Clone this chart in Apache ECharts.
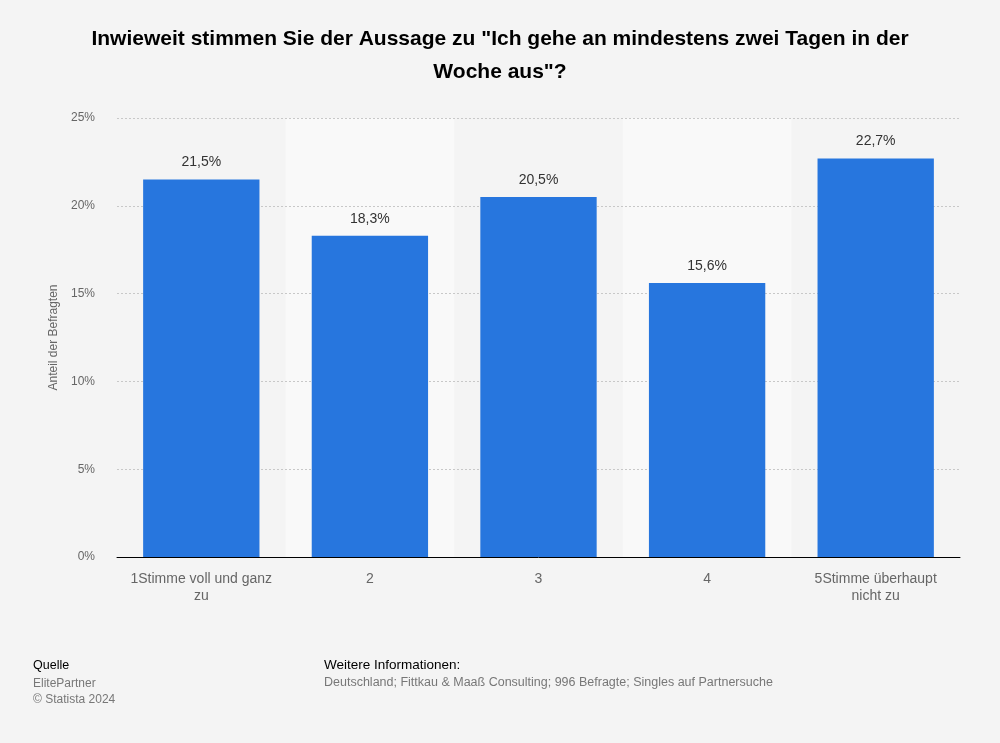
<!DOCTYPE html>
<html><head><meta charset="utf-8">
<script src="https://cdn.jsdelivr.net/npm/echarts@6/dist/echarts.min.js"></script>
<style>html,body{margin:0;padding:0;background:#f4f4f4;}#c{width:1000px;height:743px;}</style>
</head><body><div id="c"></div>
<script>
const categories = ['1Stimme voll und ganz\nzu', '2', '3', '4', '5Stimme überhaupt\nnicht zu'];
const values = [21.5, 18.3, 20.5, 15.6, 22.7];
const yTicks = [0, 5, 10, 15, 20, 25];
const titleText = 'Inwieweit stimmen Sie der Aussage zu "Ich gehe an mindestens zwei Tagen in der\nWoche aus"?';
const fontF = 'Liberation Sans, Arial, sans-serif';
const chart = echarts.init(document.getElementById('c'), null, {renderer: 'canvas'});
chart.setOption({
  backgroundColor: '#f4f4f4',
  animation: false,
  title: {
    text: titleText, left: 'center', top: 18,
    textStyle: {fontFamily: fontF, fontSize: 21, fontWeight: 'bold', color: '#000', lineHeight: 33}
  },
  grid: {left: 117, right: 40, top: 118, bottom: 186},
  xAxis: {
    type: 'category', data: categories, z: -1,
    axisLine: {lineStyle: {color: '#000', width: 1}},
    axisTick: {show: false},
    axisLabel: {fontFamily: fontF, fontSize: 14, color: '#666', margin: 14, lineHeight: 17, interval: 0},
    splitArea: {show: true, areaStyle: {color: ['rgba(0,0,0,0)', '#f9f9f9']}}
  },
  yAxis: {
    type: 'value', min: 0, max: 25, interval: 5, z: 1,
    name: 'Anteil der Befragten', nameLocation: 'middle', nameGap: 57, nameRotate: 90,
    nameTextStyle: {fontFamily: fontF, fontSize: 12, color: '#666'},
    axisLine: {show: false}, axisTick: {show: false},
    axisLabel: {fontFamily: fontF, fontSize: 12, color: '#666', margin: 22, formatter: v => v + '%'},
    splitLine: {showMinLine: false, lineStyle: {color: '#c8c8c8', type: [2, 2], width: 1}}
  },
  series: [{
    type: 'bar', data: values, barWidth: '69%', z: 3,
    itemStyle: {color: '#2776de'},
    label: {show: true, position: 'top', distance: 10, fontFamily: fontF, fontSize: 14, color: '#333',
      formatter: p => p.value.toFixed(1).replace('.', ',') + '%'}
  }],
  graphic: [
    {type: 'text', left: 33, top: 659, style: {text: 'Quelle', font: '12.5px ' + fontF, fill: '#000'}},
    {type: 'text', left: 33, top: 676, style: {text: 'ElitePartner\n© Statista 2024', font: '12px ' + fontF, fill: '#777', lineHeight: 16}},
    {type: 'text', left: 324, top: 658, style: {text: 'Weitere Informationen:', font: '13.5px ' + fontF, fill: '#000'}},
    {type: 'text', left: 324, top: 676, style: {text: 'Deutschland; Fittkau & Maaß Consulting; 996 Befragte; Singles auf Partnersuche', font: '12.5px ' + fontF, fill: '#777'}}
  ]
});
</script></body></html>
